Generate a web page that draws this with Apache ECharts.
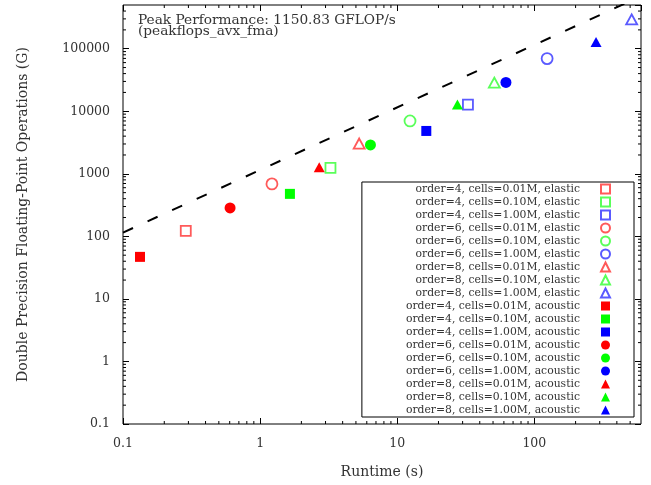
<!DOCTYPE html>
<html>
<head>
<meta charset="utf-8">
<script src="https://cdn.jsdelivr.net/npm/echarts@6/dist/echarts.min.js"></script>
<style>html,body{margin:0;padding:0;background:#fff}#c{width:651px;height:485px}</style>
</head>
<body>
<div id="c"></div>
<script>
// ---- data (runtime in s, operations in GFLOP) ----
const seriesNames = [
  'order=4, cells=0.01M, elastic','order=4, cells=0.10M, elastic','order=4, cells=1.00M, elastic',
  'order=6, cells=0.01M, elastic','order=6, cells=0.10M, elastic','order=6, cells=1.00M, elastic',
  'order=8, cells=0.01M, elastic','order=8, cells=0.10M, elastic','order=8, cells=1.00M, elastic',
  'order=4, cells=0.01M, acoustic','order=4, cells=0.10M, acoustic','order=4, cells=1.00M, acoustic',
  'order=6, cells=0.01M, acoustic','order=6, cells=0.10M, acoustic','order=6, cells=1.00M, acoustic',
  'order=8, cells=0.01M, acoustic','order=8, cells=0.10M, acoustic','order=8, cells=1.00M, acoustic'
];
const runtimes = [
  0.287, 3.26, 32.8,
  1.22, 12.4, 124,
  5.28, 51.1, 513,
  0.133, 1.65, 16.3,
  0.604, 6.38, 62.1,
  2.70, 27.5, 282
];
const operations = [
  122, 1242, 12800,
  690, 7000, 69500,
  3048, 28700, 295000,
  47.0, 478, 4845,
  285, 2897, 28900,
  1275, 12800, 128000
];
const peakGflops = 1150.83;
const peakLabel = 'Peak Performance: 1150.83 GFLOP/s';
const peakSource = '(peakflops_avx_fma)';
const xRange = [0.1, 600];
const yRange = [0.1, 500000];
const xTickLabels = ['0.1', '1', '10', '100'];
const yTickLabels = ['0.1', '1', '10', '100', '1000', '10000', '100000'];
const xName = 'Runtime (s)';
const yName = 'Double Precision Floating-Point Operations (G)';

// ---- styles ----
const FONT = 'DejaVu Serif';
const TXT = '#333';
const colorsStroke = ['#ff5a5a', '#5aff5a', '#5a5aff'];
const colorsFill = ['#ff0000', '#00ff00', '#0000ff'];
const shapes = ['rect', 'circle', 'triangle'];
const sizes = { rect: 10, circle: 11, triangle: [11, 10] };

const series = [];
seriesNames.forEach((name, i) => {
  const acoustic = i >= 9;
  const k = i % 9;
  const shape = shapes[Math.floor(k / 3)];
  const c = k % 3;
  series.push({
    name: name,
    type: 'scatter',
    data: [[runtimes[i], operations[i]]],
    symbol: shape,
    symbolSize: sizes[shape],
    itemStyle: acoustic
      ? { color: colorsFill[c], borderWidth: 0, opacity: 1 }
      : { color: 'rgba(255,255,255,0)', borderColor: colorsStroke[c], borderWidth: 1.8, opacity: 1 },
    z: 5
  });
});

// peak performance line: ops = peak * runtime
series.push({
  type: 'line',
  data: xRange.map(x => [x, x * peakGflops]),
  symbol: 'none',
  silent: true,
  lineStyle: { color: '#000', width: 2, type: [11, 16] },
  clip: true,
  z: 3
});

// minor ticks (2..9 per decade) on all four sides
const minorTicks = [];
for (let d = -1; d <= 2; d++) for (let m = 2; m <= 9; m++) {
  const v = m * Math.pow(10, d);
  if (v < xRange[1]) minorTicks.push([v, yRange[0], 0]);
}
for (let d = -1; d <= 5; d++) for (let m = 2; m <= 9; m++) {
  const v = m * Math.pow(10, d);
  if (v < yRange[1]) minorTicks.push([xRange[0], v, 1]);
}
series.push({
  type: 'custom',
  silent: true,
  clip: false,
  z: 6,
  data: minorTicks,
  renderItem: function (params, api) {
    const isY = api.value(2) === 1;
    const L = 3;
    const st = { stroke: '#000', lineWidth: 1 };
    if (!isY) {
      const x = api.value(0);
      const a = api.coord([x, yRange[0]]);
      const b = api.coord([x, yRange[1]]);
      return { type: 'group', children: [
        { type: 'line', shape: { x1: a[0], y1: a[1], x2: a[0], y2: a[1] - L }, style: st },
        { type: 'line', shape: { x1: b[0], y1: b[1], x2: b[0], y2: b[1] + L }, style: st }
      ] };
    } else {
      const y = api.value(1);
      const a = api.coord([xRange[0], y]);
      const b = api.coord([xRange[1], y]);
      return { type: 'group', children: [
        { type: 'line', shape: { x1: a[0], y1: a[1], x2: a[0] + L, y2: a[1] }, style: st },
        { type: 'line', shape: { x1: b[0], y1: b[1], x2: b[0] - L, y2: b[1] }, style: st }
      ] };
    }
  }
});

function isDecade(v) {
  const l = Math.log10(v);
  return Math.abs(l - Math.round(l)) < 1e-6;
}
function fmt(list) {
  return function (v) {
    if (!isDecade(v)) return '';
    const s = list.find(t => Math.abs(Math.log10(parseFloat(t)) - Math.log10(v)) < 1e-6);
    return s === undefined ? '' : s;
  };
}

const axisCommon = {
  type: 'log', logBase: 10,
  axisLine: { show: false },
  axisTick: { show: true, inside: true, length: 6, lineStyle: { color: '#000', width: 1 } },
  splitLine: { show: false },
  minorTick: { show: false },
  minorSplitLine: { show: false }
};

const option = {
  animation: false,
  backgroundColor: '#fff',
  grid: { left: 123, top: 5, width: 518, height: 419, show: true, borderColor: '#000', borderWidth: 1, backgroundColor: 'transparent' },
  xAxis: [
    Object.assign({}, axisCommon, {
      min: xRange[0], max: xRange[1], position: 'bottom',
      name: xName, nameLocation: 'middle', nameGap: 41,
      nameTextStyle: { fontFamily: FONT, fontSize: 14, color: TXT },
      axisLabel: { margin: 13, fontFamily: FONT, fontSize: 12.5, color: TXT, formatter: fmt(xTickLabels), showMaxLabel: false }
    }),
    Object.assign({}, axisCommon, {
      min: xRange[0], max: xRange[1], position: 'top',
      axisLabel: { show: false }
    })
  ],
  yAxis: [
    Object.assign({}, axisCommon, {
      min: yRange[0], max: yRange[1], position: 'left',
      name: yName, nameLocation: 'middle', nameGap: 93, nameRotate: 90,
      nameTextStyle: { fontFamily: FONT, fontSize: 14, color: TXT },
      axisLabel: { margin: 13, fontFamily: FONT, fontSize: 12.5, color: TXT, formatter: fmt(yTickLabels), showMaxLabel: false }
    }),
    Object.assign({}, axisCommon, {
      min: yRange[0], max: yRange[1], position: 'right',
      axisLabel: { show: false }
    })
  ],
  legend: {
    data: seriesNames,
    orient: 'vertical',
    align: 'right',
    right: 17,
    top: 182,
    padding: [1, 23, 1, 44],
    itemWidth: 9,
    itemHeight: 9,
    itemGap: 1,
    borderColor: '#000',
    borderWidth: 1,
    borderRadius: 0,
    backgroundColor: '#fff',
    selectedMode: false,
    textStyle: { fontFamily: FONT, fontSize: 10.8, lineHeight: 12, color: TXT, padding: [0, 16, 0, 0] }
  },
  graphic: [
    { type: 'text', left: 138, top: 13.5, z: 10, style: { text: peakLabel, font: '13.7px "' + FONT + '"', fill: TXT } },
    { type: 'text', left: 138, top: 24, z: 10, style: { text: peakSource, font: '13.7px "' + FONT + '"', fill: TXT } }
  ],
  series: series
};

const chart = echarts.init(document.getElementById('c'), null, { renderer: 'canvas' });
chart.setOption(option);
</script>
</body>
</html>
